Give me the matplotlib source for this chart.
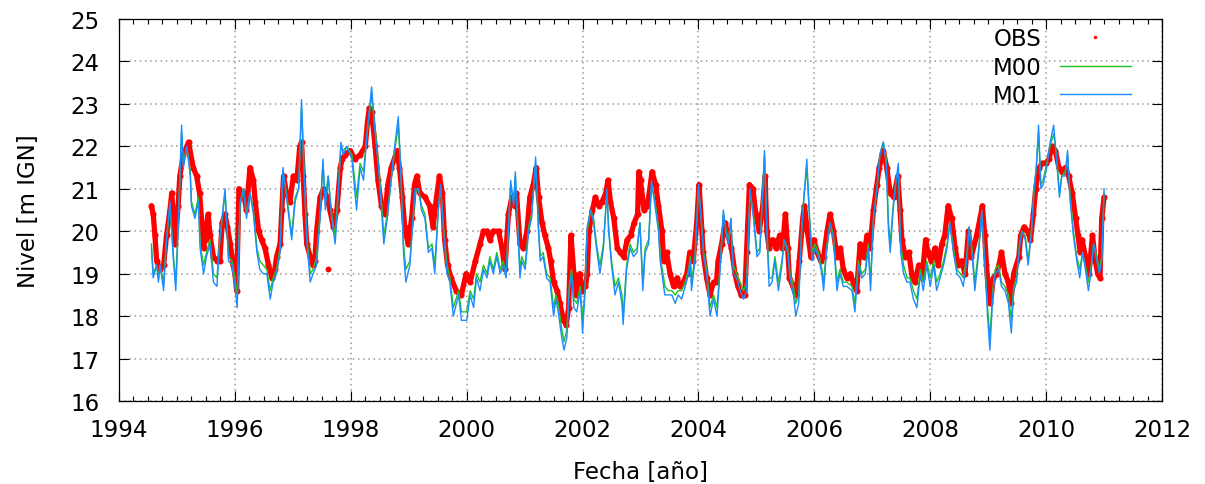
import numpy as np
import matplotlib
matplotlib.use("Agg")
import matplotlib.pyplot as plt
from matplotlib.ticker import MultipleLocator
from matplotlib.lines import Line2D

# observed level (fecha decimal, nivel m IGN)
obs_t = [
    1994.56, 1994.59, 1994.62, 1994.65, 1994.71, 1994.77, 1994.82, 1994.88, 1994.91, 1994.97,
    1995.02, 1995.05, 1995.11, 1995.20, 1995.28, 1995.34, 1995.39, 1995.43, 1995.46, 1995.48,
    1995.54, 1995.57, 1995.63, 1995.69, 1995.74, 1995.78, 1995.83, 1995.87, 1995.92, 1995.97,
    1996.00, 1996.03, 1996.07, 1996.12, 1996.15, 1996.20, 1996.26, 1996.32, 1996.35, 1996.41,
    1996.46, 1996.52, 1996.58, 1996.64, 1996.69, 1996.72, 1996.78, 1996.81, 1996.84, 1996.89,
    1996.95, 1997.01, 1997.07, 1997.12, 1997.15, 1997.18, 1997.21, 1997.24, 1997.30, 1997.35,
    1997.38, 1997.41, 1997.47, 1997.53, 1997.59, 1997.64, 1997.70, 1997.76, 1997.82, 1997.85,
    1997.90, 1997.99, 1998.07, 1998.16, 1998.25, 1998.29, 1998.32, 1998.36, 1998.42, 1998.47,
    1998.53, 1998.59, 1998.64, 1998.70, 1998.80, 1998.84, 1998.89, 1998.93, 1998.99, 1999.05,
    1999.10, 1999.14, 1999.19, 1999.28, 1999.36, 1999.42, 1999.48, 1999.53, 1999.58, 1999.62,
    1999.67, 1999.73, 1999.82, 1999.91, 1999.99, 2000.06, 2000.15, 2000.23, 2000.29, 2000.35,
    2000.40, 2000.46, 2000.55, 2000.61, 2000.66, 2000.72, 2000.78, 2000.83, 2000.86, 2000.92,
    2000.98, 2001.04, 2001.09, 2001.15, 2001.20, 2001.24, 2001.30, 2001.35, 2001.41, 2001.45,
    2001.50, 2001.56, 2001.61, 2001.67, 2001.72, 2001.76, 2001.80, 2001.85, 2001.89, 2001.95,
    2001.99, 2002.05, 2002.08, 2002.11, 2002.17, 2002.22, 2002.28, 2002.34, 2002.40, 2002.44,
    2002.48, 2002.54, 2002.60, 2002.65, 2002.71, 2002.77, 2002.83, 2002.89, 2002.95, 2002.97,
    2003.00, 2003.06, 2003.12, 2003.20, 2003.26, 2003.31, 2003.37, 2003.40, 2003.45, 2003.51,
    2003.57, 2003.63, 2003.68, 2003.74, 2003.80, 2003.85, 2003.91, 2003.97, 2004.01, 2004.06,
    2004.08, 2004.14, 2004.20, 2004.26, 2004.31, 2004.34, 2004.40, 2004.46, 2004.51, 2004.57,
    2004.63, 2004.68, 2004.74, 2004.80, 2004.83, 2004.88, 2004.94, 2004.99, 2005.05, 2005.11,
    2005.15, 2005.18, 2005.22, 2005.28, 2005.34, 2005.40, 2005.45, 2005.50, 2005.54, 2005.57,
    2005.63, 2005.68, 2005.74, 2005.80, 2005.83, 2005.88, 2005.94, 2005.99, 2006.05, 2006.11,
    2006.16, 2006.22, 2006.27, 2006.33, 2006.39, 2006.45, 2006.50, 2006.56, 2006.62, 2006.67,
    2006.73, 2006.79, 2006.85, 2006.91, 2006.96, 2007.02, 2007.08, 2007.12, 2007.19, 2007.25,
    2007.31, 2007.37, 2007.44, 2007.48, 2007.51, 2007.57, 2007.63, 2007.69, 2007.74, 2007.80,
    2007.86, 2007.92, 2007.96, 2008.02, 2008.08, 2008.14, 2008.20, 2008.25, 2008.31, 2008.37,
    2008.43, 2008.48, 2008.54, 2008.60, 2008.66, 2008.71, 2008.80, 2008.86, 2008.90, 2008.94,
    2008.97, 2009.00, 2009.04, 2009.09, 2009.15, 2009.20, 2009.23, 2009.29, 2009.35, 2009.39,
    2009.44, 2009.53, 2009.56, 2009.62, 2009.68, 2009.73, 2009.78, 2009.82, 2009.88, 2009.93,
    2009.99, 2010.05, 2010.10, 2010.16, 2010.22, 2010.28, 2010.33, 2010.39, 2010.45, 2010.51,
    2010.55, 2010.59, 2010.62, 2010.68, 2010.74, 2010.80, 2010.85, 2010.89, 2010.93, 2010.96,
    2011.00,
]
obs_v = [
    20.6, 20.4, 19.9, 19.3, 19.1, 19.2, 19.9, 20.5, 20.9, 19.7,
    20.6, 21.3, 21.8, 22.1, 21.5, 21.3, 20.9, 20.2, 19.6, 19.8,
    20.4, 19.9, 19.4, 19.3, 19.3, 20.2, 20.4, 20.1, 19.7, 19.2,
    19.0, 18.6, 21.0, 20.8, 20.9, 20.5, 21.5, 21.2, 20.7, 20.0,
    19.8, 19.6, 19.2, 18.9, 19.1, 19.4, 19.7, 20.5, 21.3, 20.9,
    20.7, 21.3, 21.2, 22.0, 22.1, 21.3, 20.4, 19.7, 19.4, 19.2,
    19.3, 20.0, 20.8, 21.0, 20.8, 20.5, 20.1, 20.5, 21.5, 21.7,
    21.8, 21.9, 21.7, 21.8, 22.0, 22.6, 22.9, 22.8, 22.0, 21.2,
    20.6, 20.4, 21.1, 21.5, 21.9, 21.5, 20.8, 20.1, 19.7, 20.3,
    21.1, 21.3, 20.9, 20.8, 20.6, 20.1, 20.8, 21.3, 20.9, 19.8,
    19.2, 18.9, 18.6, 18.5, 19.0, 18.8, 19.3, 19.7, 20.0, 20.0,
    19.8, 20.0, 20.0, 19.6, 19.1, 20.4, 20.8, 20.6, 20.9, 19.7,
    19.6, 20.0, 20.8, 21.1, 21.5, 20.8, 20.2, 19.9, 19.6, 19.3,
    18.8, 18.6, 18.3, 17.9, 17.8, 18.2, 19.9, 19.0, 18.5, 19.0,
    18.6, 18.7, 19.0, 20.0, 20.5, 20.8, 20.6, 20.7, 20.9, 21.2,
    20.7, 20.3, 19.6, 19.5, 19.4, 19.8, 19.9, 20.2, 20.4, 21.4,
    21.2, 20.5, 20.6, 21.4, 21.1, 20.6, 20.0, 19.3, 19.5, 19.0,
    18.7, 18.9, 18.7, 18.8, 19.0, 19.5, 19.3, 20.2, 21.1, 20.0,
    19.5, 18.9, 18.5, 18.8, 18.8, 19.3, 19.7, 20.2, 19.9, 19.6,
    19.0, 18.7, 18.5, 18.5, 19.5, 21.1, 21.0, 20.4, 20.0, 20.6,
    21.3, 20.0, 19.6, 19.8, 19.6, 19.9, 19.6, 20.4, 19.6, 18.9,
    18.7, 18.5, 19.3, 20.3, 20.6, 20.0, 19.4, 19.8, 19.5, 19.3,
    19.4, 20.0, 20.4, 20.0, 19.4, 19.6, 19.1, 18.9, 19.0, 18.8,
    18.6, 19.7, 19.4, 19.9, 19.6, 20.5, 21.1, 21.5, 21.9, 21.5,
    20.9, 20.8, 21.3, 20.5, 19.8, 19.4, 19.5, 18.9, 18.8, 19.2,
    18.9, 19.8, 19.5, 19.3, 19.6, 19.2, 19.7, 19.9, 20.6, 20.3,
    19.6, 19.2, 19.3, 19.0, 20.0, 19.4, 19.9, 20.3, 20.6, 19.9,
    19.2, 18.7, 18.3, 18.9, 19.0, 19.3, 19.5, 19.0, 18.8, 18.3,
    19.0, 19.4, 19.9, 20.1, 20.0, 19.8, 20.4, 21.0, 21.5, 21.6,
    21.6, 21.7, 22.0, 21.9, 21.5, 21.4, 21.5, 21.3, 20.9, 20.3,
    19.9, 19.5, 19.8, 19.4, 19.0, 19.9, 19.3, 19.0, 18.9, 20.3,
    20.8,
]
# isolated reading away from the main record
obs_lone_t = [1997.61]
obs_lone_v = [19.1]

# simulated level, both runs share the same output dates
model_t = [
    1994.56, 1994.59, 1994.65, 1994.68, 1994.71, 1994.77, 1994.82, 1994.88, 1994.94, 1994.98,
    1995.02, 1995.08, 1995.11, 1995.17, 1995.23, 1995.25, 1995.31, 1995.37, 1995.40, 1995.46,
    1995.51, 1995.57, 1995.63, 1995.69, 1995.74, 1995.83, 1995.89, 1995.95, 1996.00, 1996.04,
    1996.09, 1996.15, 1996.20, 1996.26, 1996.32, 1996.38, 1996.43, 1996.49, 1996.55, 1996.61,
    1996.66, 1996.72, 1996.78, 1996.83, 1996.89, 1996.98, 1997.04, 1997.10, 1997.15, 1997.19,
    1997.24, 1997.30, 1997.35, 1997.41, 1997.47, 1997.52, 1997.56, 1997.61, 1997.67, 1997.73,
    1997.76, 1997.83, 1997.87, 1997.93, 1998.02, 1998.10, 1998.16, 1998.22, 1998.28, 1998.36,
    1998.42, 1998.48, 1998.53, 1998.57, 1998.63, 1998.68, 1998.74, 1998.82, 1998.86, 1998.91,
    1998.95, 1999.02, 1999.11, 1999.17, 1999.22, 1999.28, 1999.34, 1999.40, 1999.45, 1999.51,
    1999.55, 1999.60, 1999.66, 1999.71, 1999.77, 1999.86, 1999.91, 2000.00, 2000.06, 2000.12,
    2000.17, 2000.23, 2000.29, 2000.35, 2000.40, 2000.46, 2000.52, 2000.58, 2000.63, 2000.68,
    2000.76, 2000.81, 2000.84, 2000.89, 2000.92, 2000.95, 2001.01, 2001.07, 2001.12, 2001.19,
    2001.24, 2001.27, 2001.32, 2001.38, 2001.44, 2001.50, 2001.54, 2001.58, 2001.64, 2001.68,
    2001.73, 2001.77, 2001.81, 2001.85, 2001.90, 2001.96, 2002.00, 2002.04, 2002.08, 2002.14,
    2002.19, 2002.24, 2002.30, 2002.36, 2002.42, 2002.45, 2002.50, 2002.56, 2002.62, 2002.68,
    2002.70, 2002.76, 2002.82, 2002.88, 2002.94, 2002.99, 2003.04, 2003.08, 2003.14, 2003.19,
    2003.25, 2003.31, 2003.34, 2003.40, 2003.42, 2003.48, 2003.54, 2003.60, 2003.65, 2003.71,
    2003.77, 2003.83, 2003.86, 2003.88, 2003.94, 2004.00, 2004.03, 2004.09, 2004.14, 2004.20,
    2004.26, 2004.32, 2004.37, 2004.43, 2004.48, 2004.52, 2004.56, 2004.60, 2004.66, 2004.72,
    2004.78, 2004.83, 2004.89, 2004.95, 2005.01, 2005.06, 2005.14, 2005.18, 2005.22, 2005.27,
    2005.32, 2005.38, 2005.44, 2005.48, 2005.54, 2005.58, 2005.64, 2005.68, 2005.73, 2005.78,
    2005.82, 2005.87, 2005.92, 2005.96, 2006.01, 2006.07, 2006.13, 2006.16, 2006.21, 2006.27,
    2006.33, 2006.39, 2006.44, 2006.50, 2006.56, 2006.65, 2006.70, 2006.76, 2006.82, 2006.88,
    2006.93, 2006.97, 2007.02, 2007.08, 2007.13, 2007.19, 2007.24, 2007.28, 2007.31, 2007.36,
    2007.41, 2007.45, 2007.49, 2007.54, 2007.60, 2007.65, 2007.71, 2007.77, 2007.83, 2007.88,
    2007.94, 2008.00, 2008.06, 2008.11, 2008.17, 2008.23, 2008.29, 2008.34, 2008.40, 2008.46,
    2008.52, 2008.57, 2008.63, 2008.67, 2008.72, 2008.77, 2008.83, 2008.89, 2008.95, 2008.99,
    2009.03, 2009.08, 2009.12, 2009.18, 2009.23, 2009.29, 2009.35, 2009.40, 2009.44, 2009.49,
    2009.54, 2009.58, 2009.64, 2009.69, 2009.75, 2009.79, 2009.83, 2009.87, 2009.91, 2009.95,
    2010.01, 2010.07, 2010.13, 2010.18, 2010.23, 2010.27, 2010.33, 2010.37, 2010.41, 2010.47,
    2010.53, 2010.58, 2010.63, 2010.69, 2010.73, 2010.77, 2010.82, 2010.86, 2010.92, 2010.96,
    2011.00,
]
m00 = [
    19.7, 19.0, 19.2, 18.9, 19.2, 18.8, 19.8, 20.6, 19.4, 18.8,
    20.1, 22.3, 21.6, 22.0, 21.4, 20.7, 20.4, 20.8, 19.7, 19.2,
    19.5, 19.8, 19.0, 18.9, 19.8, 20.9, 19.4, 19.3, 18.9, 18.5,
    20.6, 21.0, 20.4, 20.9, 20.5, 19.6, 19.3, 19.2, 19.1, 18.6,
    18.9, 19.1, 19.6, 21.4, 20.9, 19.9, 20.8, 21.0, 22.9, 21.6,
    19.9, 19.0, 19.1, 19.4, 20.4, 21.6, 20.7, 21.3, 20.4, 19.9,
    20.5, 22.0, 21.9, 22.0, 21.8, 20.8, 21.6, 21.4, 22.3, 23.2,
    22.4, 21.6, 20.7, 19.9, 20.4, 21.0, 21.7, 22.5, 21.5, 19.7,
    19.1, 19.3, 20.9, 21.0, 20.6, 20.4, 19.6, 19.7, 19.2, 20.5,
    21.0, 20.1, 19.2, 18.9, 18.2, 18.6, 18.1, 18.1, 18.6, 18.4,
    19.0, 18.8, 19.2, 19.0, 19.4, 19.1, 19.5, 19.1, 19.3, 19.0,
    21.1, 20.7, 21.3, 19.9, 19.1, 19.4, 19.2, 20.1, 20.4, 21.6,
    20.1, 19.4, 19.5, 19.0, 18.9, 18.2, 18.5, 18.3, 17.7, 17.4,
    17.7, 18.7, 19.1, 18.4, 18.3, 18.7, 17.9, 18.6, 20.0, 20.5,
    20.3, 19.7, 19.2, 19.7, 20.9, 20.1, 19.3, 18.7, 18.9, 18.5,
    18.0, 19.2, 19.7, 19.5, 19.6, 20.2, 18.8, 19.6, 19.8, 21.1,
    20.7, 20.1, 19.4, 18.9, 18.7, 18.6, 18.6, 18.5, 18.6, 18.6,
    18.8, 19.1, 19.4, 18.8, 19.4, 21.0, 20.6, 19.5, 19.1, 18.2,
    18.5, 18.2, 19.1, 20.4, 20.0, 19.8, 20.3, 19.2, 19.0, 18.8,
    18.6, 18.8, 20.9, 20.4, 19.5, 19.6, 21.8, 20.1, 18.9, 18.9,
    19.4, 18.8, 19.3, 19.8, 19.6, 19.0, 18.7, 18.3, 18.5, 20.0,
    20.8, 21.5, 20.3, 19.5, 19.7, 19.5, 19.1, 18.8, 19.6, 20.2,
    19.9, 18.8, 19.1, 18.8, 18.8, 18.7, 18.3, 19.3, 19.0, 19.1,
    19.7, 18.8, 20.3, 21.0, 21.8, 22.1, 21.7, 20.2, 19.7, 20.6,
    21.2, 21.4, 19.7, 19.2, 18.9, 18.9, 18.6, 18.4, 19.1, 18.8,
    19.3, 18.9, 19.3, 18.8, 19.0, 19.3, 19.7, 20.2, 19.6, 19.1,
    19.0, 18.9, 19.4, 20.1, 19.6, 18.8, 19.5, 20.4, 19.1, 18.2,
    17.5, 18.6, 19.1, 19.2, 18.8, 18.7, 18.5, 17.9, 18.7, 18.9,
    19.7, 20.0, 19.9, 19.3, 20.1, 20.9, 21.5, 22.3, 21.1, 21.2,
    21.6, 22.0, 22.3, 21.8, 20.9, 21.3, 21.4, 21.8, 20.9, 20.0,
    19.4, 19.1, 19.5, 19.1, 18.8, 19.1, 19.7, 19.5, 19.1, 19.4,
    20.9,
]
m01 = [
    19.6, 18.9, 19.2, 18.8, 19.2, 18.6, 19.8, 20.7, 19.3, 18.6,
    20.0, 22.5, 21.5, 22.0, 21.3, 20.6, 20.3, 20.7, 19.6, 19.0,
    19.4, 19.7, 18.8, 18.7, 19.8, 21.0, 19.3, 19.2, 18.7, 18.2,
    20.7, 21.0, 20.3, 20.9, 20.4, 19.5, 19.1, 19.0, 19.0, 18.4,
    18.8, 19.0, 19.5, 21.5, 20.8, 19.8, 20.7, 21.0, 23.1, 21.5,
    19.8, 18.8, 19.0, 19.2, 20.3, 21.7, 20.5, 21.3, 20.3, 19.7,
    20.3, 22.1, 21.8, 22.0, 21.7, 20.5, 21.5, 21.2, 22.3, 23.4,
    22.3, 21.5, 20.5, 19.7, 20.3, 21.0, 21.8, 22.7, 21.5, 19.5,
    18.8, 19.2, 21.0, 21.0, 20.5, 20.3, 19.5, 19.6, 19.0, 20.5,
    21.1, 20.0, 19.0, 18.8, 18.0, 18.5, 17.9, 17.9, 18.5, 18.2,
    18.9, 18.6, 19.1, 18.9, 19.3, 19.0, 19.4, 19.0, 19.2, 18.9,
    21.2, 20.6, 21.4, 19.8, 18.9, 19.3, 19.1, 20.0, 20.3, 21.75,
    20.0, 19.3, 19.4, 18.9, 18.8, 18.0, 18.4, 18.1, 17.5, 17.2,
    17.5, 18.6, 19.0, 18.2, 18.1, 18.6, 17.6, 18.5, 20.1, 20.5,
    20.2, 19.6, 19.0, 19.6, 21.0, 20.0, 19.2, 18.5, 18.8, 18.3,
    17.8, 19.1, 19.6, 19.4, 19.5, 20.2, 18.6, 19.5, 19.7, 21.2,
    20.6, 20.0, 19.3, 18.7, 18.5, 18.5, 18.5, 18.3, 18.5, 18.4,
    18.7, 19.0, 19.3, 18.6, 19.3, 21.1, 20.6, 19.4, 19.0, 18.0,
    18.4, 18.0, 19.0, 20.5, 19.9, 19.7, 20.3, 19.0, 18.9, 18.6,
    18.4, 18.6, 21.0, 20.3, 19.4, 19.5, 21.9, 20.0, 18.7, 18.8,
    19.3, 18.6, 19.2, 19.8, 19.5, 18.9, 18.5, 18.0, 18.3, 20.0,
    20.8, 21.7, 20.2, 19.3, 19.6, 19.4, 19.0, 18.6, 19.5, 20.2,
    19.8, 18.6, 19.0, 18.7, 18.7, 18.6, 18.1, 19.2, 18.9, 19.0,
    19.6, 18.6, 20.3, 21.0, 21.8, 22.1, 21.6, 20.0, 19.5, 20.5,
    21.2, 21.6, 19.5, 19.0, 18.8, 18.8, 18.4, 18.2, 19.0, 18.6,
    19.2, 18.7, 19.2, 18.6, 18.9, 19.2, 19.6, 20.2, 19.5, 19.0,
    18.9, 18.7, 19.3, 20.1, 19.5, 18.6, 19.4, 20.5, 19.0, 18.0,
    17.2, 18.5, 19.0, 19.1, 18.7, 18.6, 18.3, 17.6, 18.6, 18.8,
    19.6, 20.0, 19.8, 19.2, 20.0, 21.0, 21.5, 22.5, 21.0, 21.1,
    21.5, 22.1, 22.5, 21.7, 20.8, 21.3, 21.3, 21.9, 20.8, 19.9,
    19.3, 18.9, 19.5, 19.0, 18.6, 19.0, 19.7, 19.4, 19.0, 19.3,
    21.0,
]

FONT = 16.5
RED = "#ff0000"

plt.rcParams["font.family"] = "DejaVu Sans"
fig = plt.figure(figsize=(12.05, 4.85), dpi=100)
ax = fig.add_axes([119 / 1205, 1 - 402 / 485, 1043 / 1205, 382 / 485])

# daily readings are dense enough to read as a band
ax.plot(obs_t, obs_v, color=RED, lw=3.8, solid_joinstyle="round",
        solid_capstyle="round", zorder=2)
ax.plot(obs_t, obs_v, linestyle="none", marker="o", markersize=4.4,
        markeredgewidth=0, color=RED, zorder=2)
ax.plot(obs_lone_t, obs_lone_v, linestyle="none", marker="o", markersize=4.2,
        markeredgewidth=0, color=RED, zorder=2)
ax.plot(model_t, m00, color="#1fc41f", lw=1.0, zorder=3)
ax.plot(model_t, m01, color="#1a8cff", lw=1.0, zorder=4)

ax.set_xlim(1994, 2012)
ax.set_ylim(16, 25)
ax.xaxis.set_major_locator(MultipleLocator(2))
ax.xaxis.set_minor_locator(MultipleLocator(0.25))
ax.yaxis.set_major_locator(MultipleLocator(1))

ax.grid(True, which="major", color="#999999", lw=1.1, linestyle=(0, (1, 2.4)))
ax.set_axisbelow(True)
ax.tick_params(which="both", direction="in", top=True, right=True,
               labelsize=FONT, colors="black")
ax.tick_params(which="major", length=7, width=0.8)
ax.tick_params(which="minor", length=3.5, width=0.8)
ax.tick_params(axis="y", pad=14)
ax.tick_params(axis="x", pad=12)
for s in ax.spines.values():
    s.set_linewidth(0.9)

ax.set_xlabel("Fecha [año]", fontsize=FONT, labelpad=14)
ax.set_ylabel("Nivel [m IGN]", fontsize=FONT, labelpad=22)

handles = [
    Line2D([], [], linestyle="none", marker="o", markersize=2.5,
           markeredgewidth=0, color=RED),
    Line2D([], [], color="#1fc41f", lw=1.0),
    Line2D([], [], color="#1a8cff", lw=1.0),
]
ax.legend(handles, ["OBS", "M00", "M01"], loc="upper right",
          bbox_to_anchor=(0.970, 0.979), frameon=False, markerfirst=False,
          fontsize=FONT, handlelength=3.1, handletextpad=0.8,
          labelspacing=0.24, borderpad=0, borderaxespad=0)

fig.savefig("out.png", dpi=100)
